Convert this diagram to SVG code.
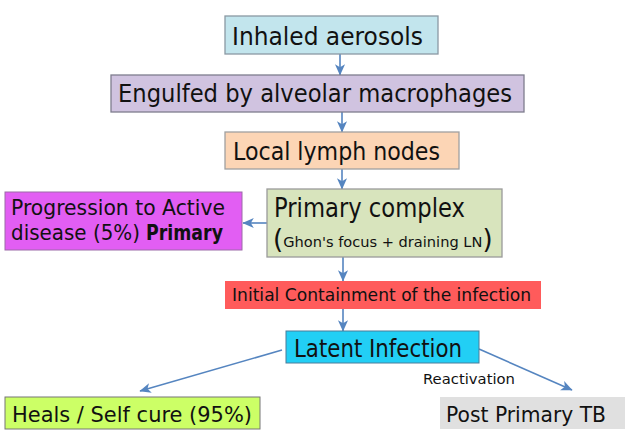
<svg xmlns="http://www.w3.org/2000/svg" width="638" height="438" viewBox="0 0 638 438">
<style>
.t{font-family:"DejaVu Sans","Noto Sans",sans-serif;fill:#111;}
.c{stroke:#5585C0;stroke-width:1.6;fill:none;marker-end:url(#ah);}
.b{stroke-width:1.3;}
</style>
<defs>
<marker id="ah" markerUnits="userSpaceOnUse" markerWidth="12" markerHeight="12" viewBox="0 0 10 10" refX="9" refY="5" orient="auto">
<path d="M0,0.8 L9.5,5 L0,9.2 L2.5,5 z" fill="#5585C0"/>
</marker>
</defs>
<rect width="638" height="438" fill="#fff"/>
<g id="connectors">
<line class="c" x1="340" y1="54" x2="340" y2="75"/>
<line class="c" x1="342" y1="112" x2="342" y2="132"/>
<line class="c" x1="342" y1="169" x2="342" y2="189"/>
<line class="c" x1="267" y1="223" x2="243" y2="223"/>
<line class="c" x1="343" y1="257" x2="343" y2="281"/>
<line class="c" x1="343" y1="309" x2="343" y2="331"/>
<line class="c" x1="282" y1="350" x2="140" y2="391"/>
<line class="c" x1="479" y1="349" x2="572" y2="390"/>
<text class="t" x="423" y="384" font-size="14" textLength="92" lengthAdjust="spacingAndGlyphs">Reactivation</text>
</g>
<g id="n1">
<rect class="b" x="225" y="16" width="213" height="38" fill="#C2E5ED" stroke="#8A99A3"/>
<text class="t" x="232" y="45" font-size="24" textLength="191" lengthAdjust="spacingAndGlyphs">Inhaled aerosols</text>
</g>
<g id="n2">
<rect class="b" x="111" y="75" width="413" height="37" fill="#D0C3E0" stroke="#7E7D8E"/>
<text class="t" x="118" y="102" font-size="24" textLength="394" lengthAdjust="spacingAndGlyphs">Engulfed by alveolar macrophages</text>
</g>
<g id="n3">
<rect class="b" x="225" y="132" width="234" height="37" fill="#FCD5B5" stroke="#A0A0A0"/>
<text class="t" x="233" y="160" font-size="24" textLength="207" lengthAdjust="spacingAndGlyphs">Local lymph nodes</text>
</g>
<g id="n4">
<rect class="b" x="267" y="189" width="235" height="68" fill="#D8E4BD" stroke="#9A9A9A"/>
<text class="t" x="274" y="217" font-size="26" textLength="191" lengthAdjust="spacingAndGlyphs">Primary complex</text>
<text class="t" x="273" y="248" font-size="26">(<tspan font-size="14.6" dy="-1">Ghon's focus + draining LN</tspan><tspan dy="1">)</tspan></text>
</g>
<g id="n5">
<rect x="5" y="192" width="237" height="58" fill="#E25EF3" stroke="#9C6AA8" stroke-width="1"/>
<text class="t" x="11" y="215" font-size="21" textLength="214" lengthAdjust="spacingAndGlyphs">Progression to Active</text>
<text class="t" x="11" y="240" font-size="21" textLength="129" lengthAdjust="spacingAndGlyphs">disease (5%)</text>
<text class="t" x="146" y="240" font-size="21" font-weight="bold" textLength="77" lengthAdjust="spacingAndGlyphs">Primary</text>
</g>
<g id="n6">
<rect x="225" y="281" width="316" height="28" fill="#FF5B5B"/>
<text class="t" x="232" y="301" font-size="18" textLength="299" lengthAdjust="spacingAndGlyphs">Initial Containment of the infection</text>
</g>
<g id="n7">
<rect x="286" y="331" width="193" height="32" fill="#22CFF5" stroke="#4A7C9A" stroke-width="1"/>
<text class="t" x="294" y="357" font-size="24" textLength="168" lengthAdjust="spacingAndGlyphs">Latent Infection</text>
</g>
<g id="n8">
<rect x="5" y="397" width="255" height="32" fill="#CCFF66" stroke="#777" stroke-width="1"/>
<text class="t" x="12" y="422" font-size="21" textLength="240" lengthAdjust="spacingAndGlyphs">Heals / Self cure (95%)</text>
</g>
<g id="n9">
<rect x="440" y="397" width="185" height="32" fill="#E0E0E0"/>
<text class="t" x="446" y="422" font-size="22" textLength="160" lengthAdjust="spacingAndGlyphs">Post Primary TB</text>
</g>
</svg>
